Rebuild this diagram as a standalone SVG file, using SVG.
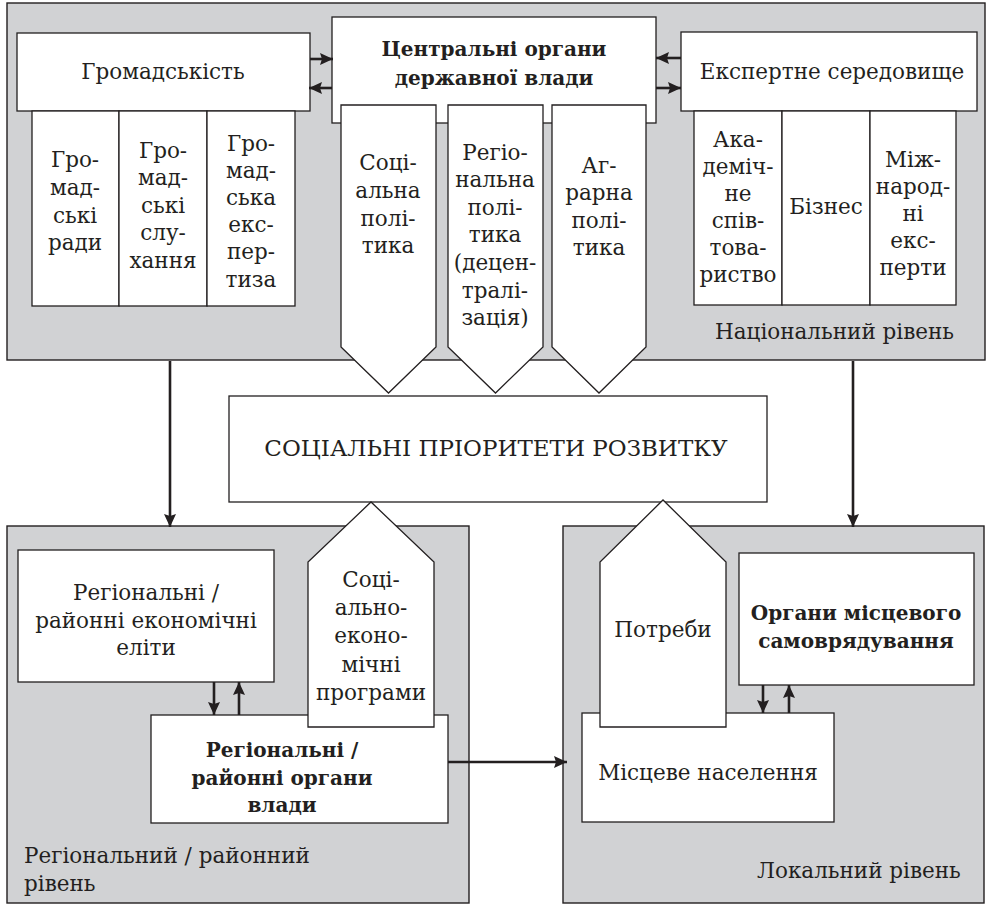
<svg xmlns="http://www.w3.org/2000/svg" width="987" height="906" viewBox="0 0 987 906">
<defs>
<style>
.panel{fill:#d1d2d4;stroke:#231f20;stroke-width:1.4}
.box{fill:#fff;stroke:#231f20;stroke-width:1.3}
.t{font-family:"DejaVu Serif","Liberation Serif",serif;font-size:21.5px;fill:#231f20;text-anchor:middle}
.b{font-weight:bold;font-size:20px}
.caps{font-size:23px}
.l{text-anchor:start}
.c{stroke:#231f20;stroke-width:2.6;fill:none}
</style>
<marker id="ah" viewBox="0 0 13 12" refX="13" refY="6" markerWidth="13" markerHeight="12" markerUnits="userSpaceOnUse" orient="auto">
<path d="M0,0 L13,6 L0,12 L2,6 Z" fill="#231f20"/>
</marker>
</defs>

<g id="panel-national">
<rect class="panel" x="7" y="3" width="978" height="357"/>
<text class="t l" x="715" y="339">Національний рівень</text>
</g>
<g id="panel-regional">
<rect class="panel" x="7" y="526" width="462" height="377"/>
<text class="t l" x="24" y="863">Регіональний / районний</text>
<text class="t l" x="24" y="891">рівень</text>
</g>
<g id="panel-local">
<rect class="panel" x="563" y="526" width="421" height="377"/>
<text class="t l" x="757" y="878">Локальний рівень</text>
</g>

<g id="hromadskist">
<rect class="box" x="17" y="33" width="293" height="78"/>
<text class="t" x="163" y="79">Громадськість</text>
</g>
<g id="hromadski-rady">
<rect class="box" x="32" y="111" width="87" height="195"/>
<text class="t"><tspan x="75" y="167">Гро-</tspan><tspan x="75" y="195">мад-</tspan><tspan x="75" y="223">ські</tspan><tspan x="75" y="250">ради</tspan></text>
</g>
<g id="hromadski-sluhannia">
<rect class="box" x="119" y="111" width="88" height="195"/>
<text class="t"><tspan x="163" y="158">Гро-</tspan><tspan x="163" y="185">мад-</tspan><tspan x="163" y="213">ські</tspan><tspan x="163" y="240">слу-</tspan><tspan x="163" y="268">хання</tspan></text>
</g>
<g id="hromadska-ekspertyza">
<rect class="box" x="207" y="111" width="88" height="195"/>
<text class="t"><tspan x="251" y="151">Гро-</tspan><tspan x="251" y="178">мад-</tspan><tspan x="251" y="205">ська</tspan><tspan x="251" y="232">екс-</tspan><tspan x="251" y="259">пер-</tspan><tspan x="251" y="287">тиза</tspan></text>
</g>

<g id="central">
<rect class="box" x="332" y="17" width="324" height="106"/>
<text class="t b"><tspan x="494" y="56">Центральні органи</tspan><tspan x="494" y="85">державної влади</tspan></text>
</g>
<g id="social-policy">
<polygon class="box" points="341,105 436,105 436,347 388.5,393 341,347"/>
<text class="t"><tspan x="388" y="170">Соці-</tspan><tspan x="388" y="198">альна</tspan><tspan x="388" y="226">полі-</tspan><tspan x="388" y="253">тика</tspan></text>
</g>
<g id="regional-policy">
<polygon class="box" points="448,105 543,105 543,347 495.5,393 448,347"/>
<text class="t"><tspan x="495" y="160">Регіо-</tspan><tspan x="495" y="187">нальна</tspan><tspan x="495" y="215">полі-</tspan><tspan x="495" y="242">тика</tspan><tspan x="495" y="270">(децен-</tspan><tspan x="495" y="298">тралі-</tspan><tspan x="495" y="325">зація)</tspan></text>
</g>
<g id="agrarian-policy">
<polygon class="box" points="552,105 646,105 646,347 599,393 552,347"/>
<text class="t"><tspan x="599" y="173">Аг-</tspan><tspan x="599" y="200">рарна</tspan><tspan x="599" y="228">полі-</tspan><tspan x="599" y="255">тика</tspan></text>
</g>

<g id="expert">
<rect class="box" x="681" y="32" width="296" height="79"/>
<text class="t" x="832" y="79">Експертне середовище</text>
</g>
<g id="academic">
<rect class="box" x="694" y="111" width="88" height="194"/>
<text class="t"><tspan x="738" y="147">Ака-</tspan><tspan x="738" y="174">деміч-</tspan><tspan x="738" y="201">не</tspan><tspan x="738" y="228">спів-</tspan><tspan x="738" y="255">това-</tspan><tspan x="738" y="282">риство</tspan></text>
</g>
<g id="business">
<rect class="box" x="782" y="111" width="88" height="194"/>
<text class="t" x="826" y="214">Бізнес</text>
</g>
<g id="international">
<rect class="box" x="870" y="111" width="86" height="194"/>
<text class="t"><tspan x="913" y="167">Між-</tspan><tspan x="913" y="194">народ-</tspan><tspan x="913" y="221">ні</tspan><tspan x="913" y="248">екс-</tspan><tspan x="913" y="275">перти</tspan></text>
</g>

<g id="priorities">
<rect class="box" x="229" y="396" width="538" height="106"/>
<text class="t caps" x="496" y="456">СОЦІАЛЬНІ ПРІОРИТЕТИ РОЗВИТКУ</text>
</g>

<g id="elites">
<rect class="box" x="18" y="550" width="256" height="132"/>
<text class="t"><tspan x="146" y="600">Регіональні /</tspan><tspan x="146" y="628">районні економічні</tspan><tspan x="146" y="655">еліти</tspan></text>
</g>
<g id="regional-authorities">
<rect class="box" x="151" y="715" width="297" height="108"/>
<text class="t b"><tspan x="282" y="757">Регіональні /</tspan><tspan x="282" y="785">районні органи</tspan><tspan x="282" y="812">влади</tspan></text>
</g>
<g id="programs">
<polygon class="box" points="308,727 434,727 434,562 371,502 308,562"/>
<text class="t"><tspan x="371" y="587">Соці-</tspan><tspan x="371" y="615">ально-</tspan><tspan x="371" y="643">еконо-</tspan><tspan x="371" y="672">мічні</tspan><tspan x="371" y="700">програми</tspan></text>
</g>

<g id="local-self-government">
<rect class="box" x="739" y="553" width="235" height="132"/>
<text class="t b"><tspan x="856" y="620">Органи місцевого</tspan><tspan x="856" y="648">самоврядування</tspan></text>
</g>
<g id="local-population">
<rect class="box" x="582" y="713" width="252" height="109"/>
<text class="t" x="708" y="780">Місцеве населення</text>
</g>
<g id="needs">
<polygon class="box" points="600,727 726,727 726,562 663,500 600,562"/>
<text class="t" x="663" y="637">Потреби</text>
</g>

<g id="connectors">
<line class="c" x1="310" y1="59" x2="333" y2="59" marker-end="url(#ah)"/>
<line class="c" x1="332" y1="88" x2="309" y2="88" marker-end="url(#ah)"/>
<line class="c" x1="681" y1="58" x2="656" y2="58" marker-end="url(#ah)"/>
<line class="c" x1="656" y1="88" x2="681" y2="88" marker-end="url(#ah)"/>
<line class="c" x1="170" y1="361" x2="170" y2="527" marker-end="url(#ah)"/>
<line class="c" x1="853" y1="361" x2="853" y2="527" marker-end="url(#ah)"/>
<line class="c" x1="214" y1="682" x2="214" y2="715" marker-end="url(#ah)"/>
<line class="c" x1="239" y1="715" x2="239" y2="682" marker-end="url(#ah)"/>
<line class="c" x1="763" y1="685" x2="763" y2="713" marker-end="url(#ah)"/>
<line class="c" x1="789" y1="713" x2="789" y2="685" marker-end="url(#ah)"/>
<line class="c" x1="448" y1="762" x2="567" y2="762" marker-end="url(#ah)"/>
</g>
</svg>
